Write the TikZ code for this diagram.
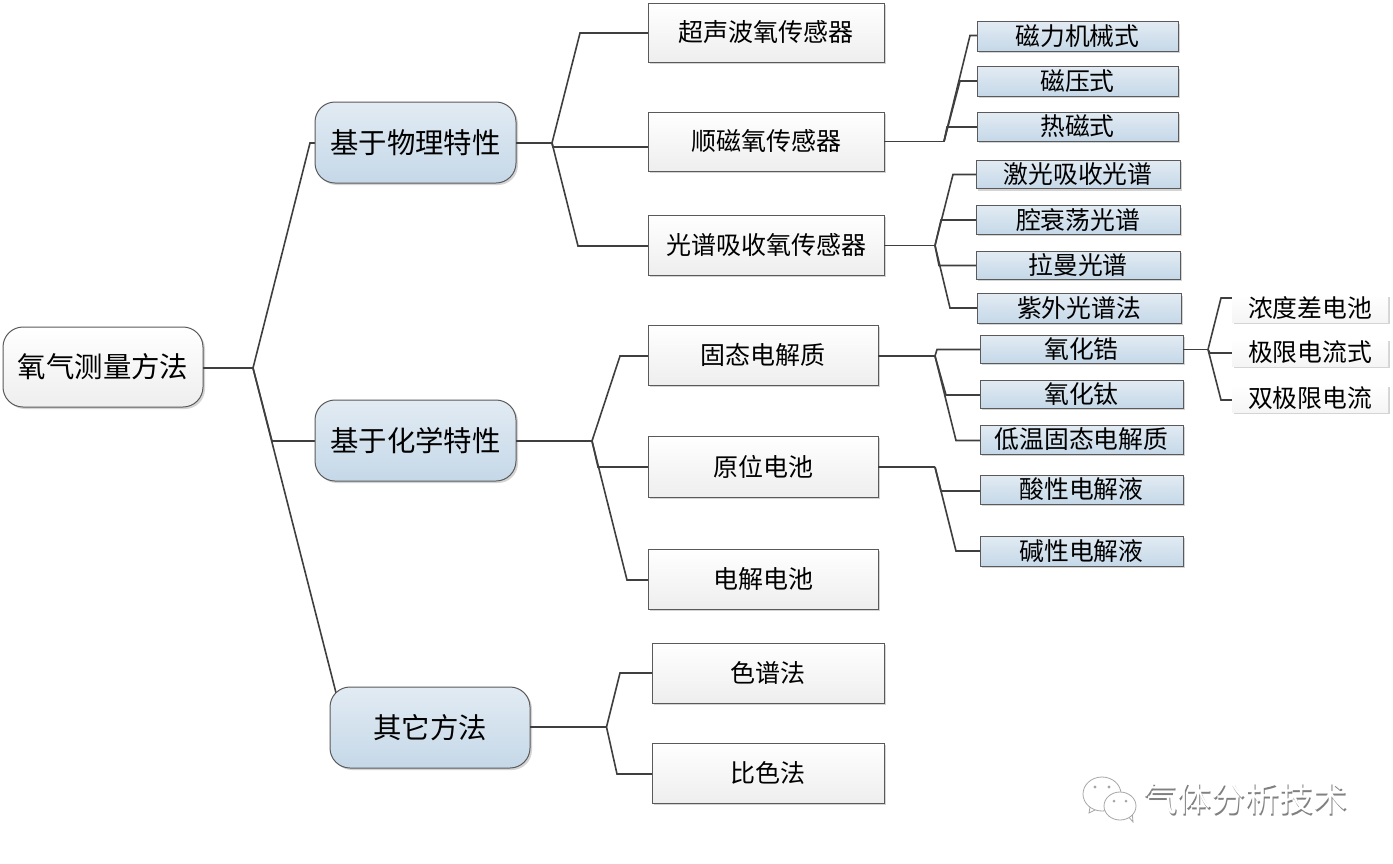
\documentclass[tikz,border=0pt]{standalone}
\usepackage{fontspec}
\setmainfont{Noto Sans CJK SC}
\usetikzlibrary{shadows}
\definecolor{edgeC}{HTML}{5A5A5A}
\definecolor{lineC}{HTML}{3F3F3F}
\definecolor{blueTop}{HTML}{E2EBF3}
\definecolor{blueBot}{HTML}{C5D8E8}
\definecolor{whiteBot}{HTML}{EEEEEE}
\definecolor{shadowC}{HTML}{D4D4D4}
\pgfdeclarelayer{paper}
\pgfdeclarelayer{conn}
\pgfsetlayers{paper,conn,main}
\tikzset{
  boxbase/.style={draw=edgeC,line width=1pt,inner sep=0pt,outer sep=0pt,align=center,
    drop shadow={shadow xshift=2pt,shadow yshift=-2pt,fill=shadowC,opacity=1}},
  rootbox/.style={boxbase,rounded corners=20pt,top color=white,bottom color=whiteBot,font=\fontsize{28.4}{31}\selectfont},
  groupbox/.style={boxbase,rounded corners=20pt,top color=blueTop,bottom color=blueBot,font=\fontsize{28.4}{31}\selectfont},
  methodbox/.style={boxbase,top color=white,bottom color=whiteBot,font=\fontsize{25}{28}\selectfont},
  leafbox/.style={boxbase,top color=blueTop,bottom color=blueBot,font=\fontsize{24.8}{28}\selectfont},
  palebox/.style={boxbase,draw=none,top color=white,bottom color=whiteBot!60!white,font=\fontsize{24.8}{28}\selectfont},
  conn/.style={draw=lineC,line width=1.6pt,line join=miter},
}
% \bx{style}{name}{x1}{y1}{x2}{y2}{text}
\newcommand\bx[7]{%
  \pgfmathsetmacro\bw{#5-#3-1}\pgfmathsetmacro\bh{#6-#4-1}%
  \pgfmathsetmacro\bcx{(#3+#5-1)/2}\pgfmathsetmacro\bcy{(#4+#6-1)/2}%
  \node[#1,minimum width=\bw pt,minimum height=\bh pt] (#2) at (\bcx,\bcy) {\raisebox{0.6pt}{#7}};}
% \branch{from}{elbow name}{x,y}{target}
\newcommand\branch[4]{%
  \coordinate (#2) at (#3);
  \draw[conn] (#1) -- (#2) -- (#2 -| #4.west);}
\begin{document}
\begin{tikzpicture}[x=1pt,y=-1pt]
\path[use as bounding box] (0,0) rectangle (1393,863);
\begin{pgfonlayer}{paper}
\fill[white] (0,0) rectangle (1393,863);
\end{pgfonlayer}

\bx{rootbox}{root}{3}{327}{204}{408}{氧气测量方法}
\bx{groupbox}{phys}{315}{102}{517}{184}{基于物理特性}
\bx{groupbox}{chem}{315}{400}{517}{482}{基于化学特性}
\bx{groupbox}{other}{330}{687}{531}{769}{其它方法}

\bx{methodbox}{ultra}{648}{3}{885}{63}{超声波氧传感器}
\bx{methodbox}{para}{648}{112}{885}{172}{顺磁氧传感器}
\bx{methodbox}{spec}{648}{215}{885}{276}{光谱吸收氧传感器}
\bx{methodbox}{solid}{648}{325}{879}{386}{固态电解质}
\bx{methodbox}{cell}{648}{436}{879}{498}{原位电池}
\bx{methodbox}{elec}{648}{549}{879}{610}{电解电池}
\bx{methodbox}{chrom}{652}{643}{885}{704}{色谱法}
\bx{methodbox}{color}{652}{743}{885}{804}{比色法}

\bx{leafbox}{l1}{977}{21.5}{1179}{52}{磁力机械式}
\bx{leafbox}{l2}{977}{66.5}{1179}{97}{磁压式}
\bx{leafbox}{l3}{977}{112}{1179}{142}{热磁式}
\bx{leafbox}{l4}{976}{160}{1181}{189.5}{激光吸收光谱}
\bx{leafbox}{l5}{976}{205.5}{1181}{235}{腔衰荡光谱}
\bx{leafbox}{l6}{976}{251}{1181}{280}{拉曼光谱}
\bx{leafbox}{l7}{977}{293.5}{1182}{324}{紫外光谱法}
\bx{leafbox}{l8}{980}{335}{1184}{364}{氧化锆}
\bx{leafbox}{l9}{980}{380}{1184}{409}{氧化钛}
\bx{leafbox}{l10}{980}{425}{1184}{455}{低温固态电解质}
\bx{leafbox}{l11}{980}{475}{1184}{505}{酸性电解液}
\bx{leafbox}{l12}{980}{536}{1184}{567}{碱性电解液}

\bx{palebox}{p1}{1232}{295}{1389}{323}{浓度差电池}
\bx{palebox}{p2}{1232}{339}{1389}{367}{极限电流式}
\bx{palebox}{p3}{1232}{385}{1389}{413}{双极限电流}

\coordinate (j0) at (253,368);
\coordinate (j1) at (552,143);
\coordinate (j2) at (944,141.5);
\coordinate (j3) at (935,245.5);
\coordinate (j4) at (592,441);
\coordinate (j5) at (935,356);
\coordinate (j6) at (935,467);
\coordinate (j7) at (1208,349.5);
\coordinate (j8) at (606.5,727);
% stems leave the box over its shadow
\draw[conn] (root.east |- j0) -- (j0);
\draw[conn] (phys.east |- j1) -- (j1);
\draw[conn] (para.east |- j2) -- (j2);
\draw[conn] (spec.east |- j3) -- (j3);
\draw[conn] (chem.east |- j4) -- (j4);
\draw[conn] (solid.east |- j5) -- (j5);
\draw[conn] (cell.east |- j6) -- (j6);
\draw[conn] (l8.east |- j7) -- (j7);
\draw[conn] (other.east |- j8) -- (j8);

\begin{pgfonlayer}{conn}
\branch{j0}{e1}{310,143}{phys}
\branch{j0}{e2}{272,441}{chem}
\branch{j0}{e3}{345,728}{other}
\branch{j1}{e4}{580,33}{ultra}
\branch{j1}{e5}{553,147}{para}
\branch{j1}{e6}{578,246}{spec}
\branch{j2}{e7}{970,35.5}{l1}
\branch{j2}{e8}{960,81}{l2}
\branch{j2}{e9}{947,127}{l3}
\branch{j3}{e10}{953,174.5}{l4}
\branch{j3}{e11}{941,220}{l5}
\branch{j3}{e12}{939,265.5}{l6}
\branch{j3}{e13}{950,308}{l7}
\branch{j4}{e14}{620,356}{solid}
\branch{j4}{e15}{598,467}{cell}
\branch{j4}{e16}{627,580}{elec}
\branch{j5}{e17}{937,349.5}{l8}
\branch{j5}{e18}{946,395}{l9}
\branch{j5}{e19}{956,440.5}{l10}
\branch{j6}{e20}{941,491}{l11}
\branch{j6}{e21}{956,551}{l12}
\branch{j7}{e22}{1221,298}{p1}
\branch{j7}{e23}{1210,353}{p2}
\branch{j7}{e24}{1221,400}{p3}
\branch{j8}{e25}{620,673}{chrom}
\branch{j8}{e26}{617,774}{color}
\end{pgfonlayer}

% watermark
\node[text=black!50,font=\fontsize{34}{37}\selectfont,inner sep=0pt] (wmS) at (1246.2,800.2) {气体分析技术};
\node[text=white,font=\fontsize{34}{37}\selectfont,inner sep=0pt] (wm) at (1245,799) {气体分析技术};
\begin{scope}[draw=black!35,fill=white,line width=.8pt]
\filldraw (1090,807) -- (1089,813) -- (1099,808) -- cycle;
\filldraw (1102,794) ellipse [x radius=19,y radius=17];
\filldraw (1127,815) -- (1133,822) -- (1132,811) -- cycle;
\filldraw (1120,806) ellipse [x radius=16,y radius=14];
\fill[black!35] (1095,787) circle (1.6) (1109,787) circle (1.6) (1114,801) circle (1.5) (1126,801) circle (1.5);
\end{scope}
\end{tikzpicture}
\end{document}
